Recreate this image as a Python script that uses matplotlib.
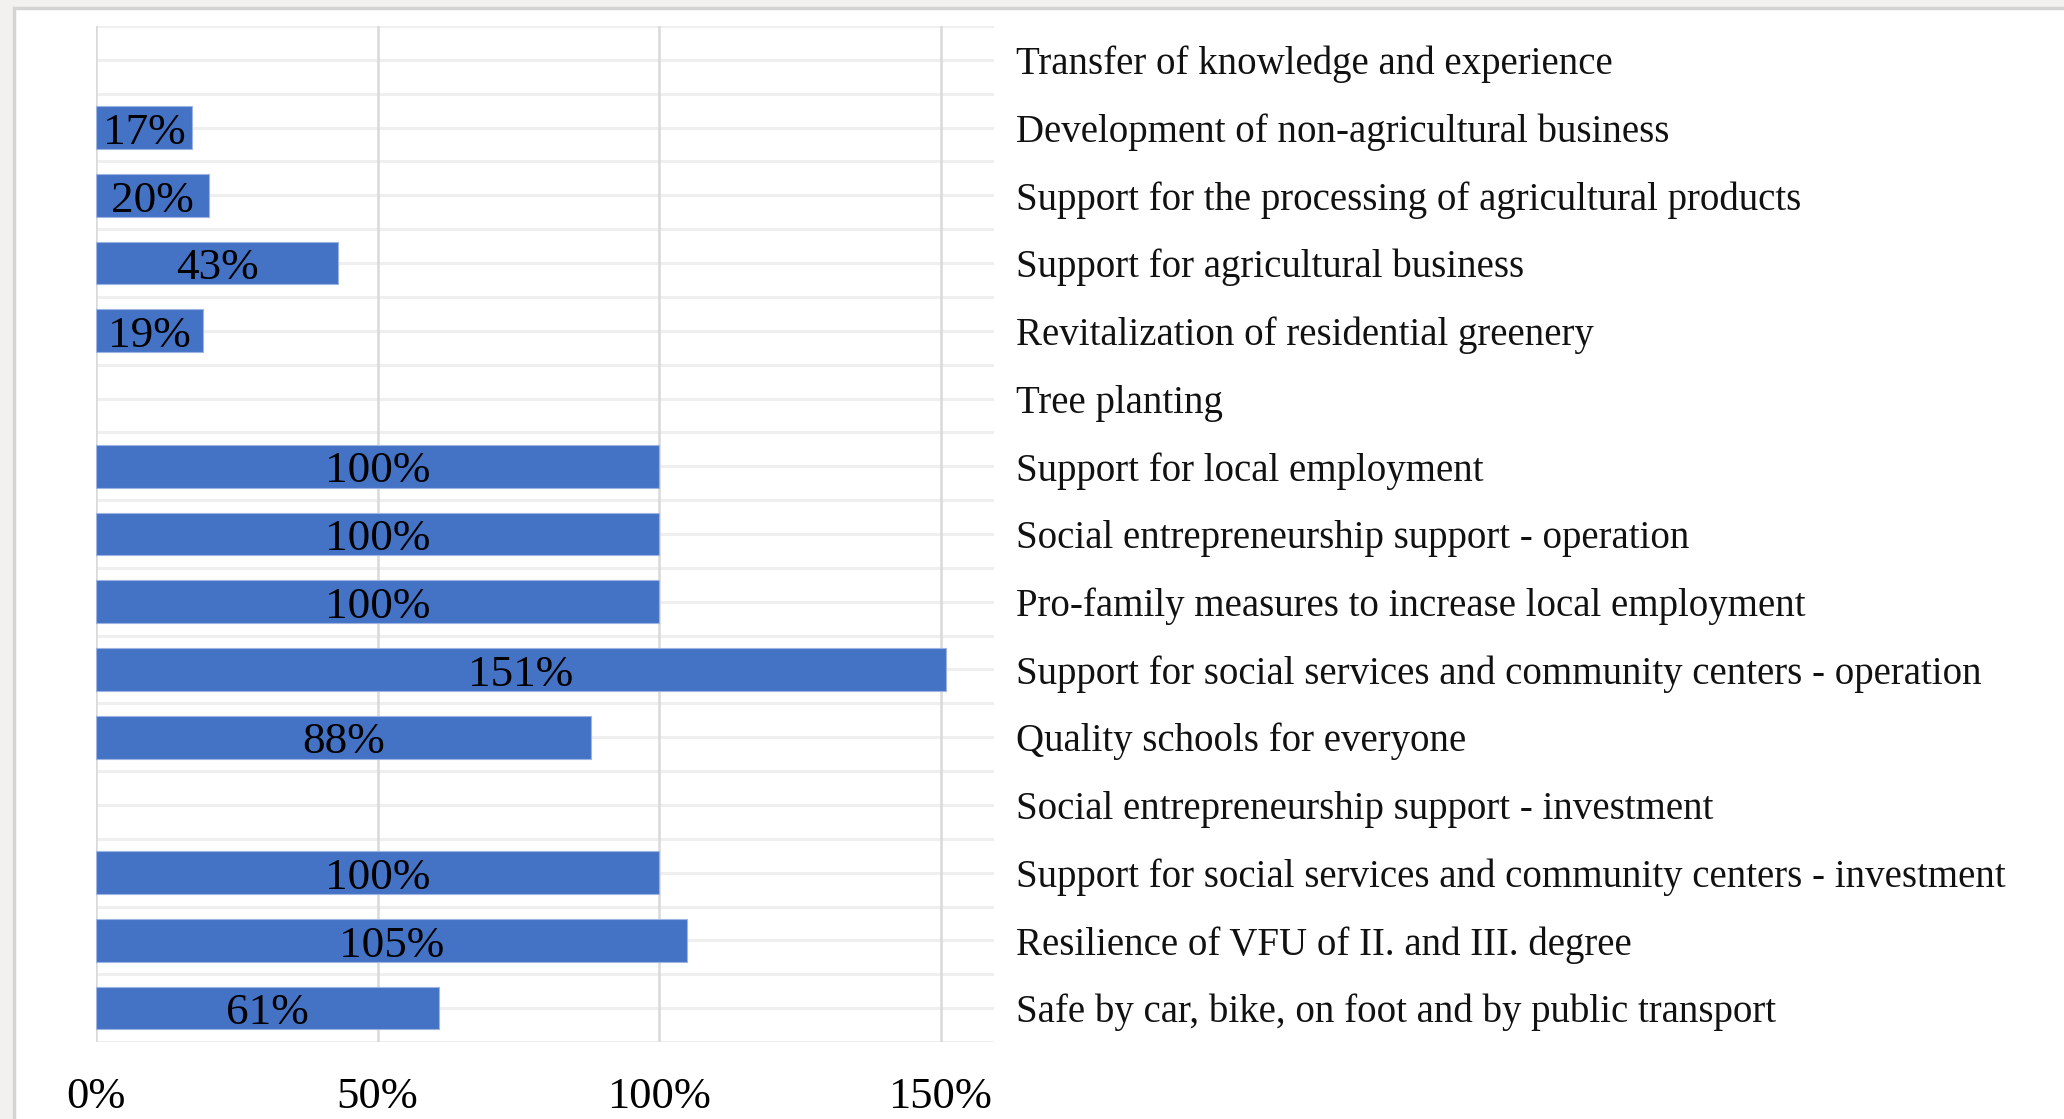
import matplotlib
matplotlib.use("Agg")
import matplotlib.pyplot as plt
import matplotlib.patches as mpatches
import numpy as np

categories = [
    "Transfer of knowledge and experience",
    "Development of non-agricultural business",
    "Support for the processing of agricultural products",
    "Support for agricultural business",
    "Revitalization of residential greenery",
    "Tree planting",
    "Support for local employment",
    "Social entrepreneurship support - operation",
    "Pro-family measures to increase local employment",
    "Support for social services and community centers - operation",
    "Quality schools for everyone",
    "Social entrepreneurship support - investment",
    "Support for social services and community centers - investment",
    "Resilience of VFU of II. and III. degree",
    "Safe by car, bike, on foot and by public transport",
]
values = [None, 17, 20, 43, 19, None, 100, 100, 100, 151, 88, None, 100, 105, 61]
xticks = [0, 50, 100, 150]
xtick_labels = ["0%", "50%", "100%", "150%"]

W, H = 2064, 1119
fig = plt.figure(figsize=(W / 100, H / 100), dpi=100)
fig.patch.set_facecolor("#f3f1f0")
fig.patches.append(mpatches.Rectangle((14 / W, -0.1), 1.2, 1.1 - 8 / H, transform=fig.transFigure,
                                      facecolor="white", edgecolor="#d4d4d4", linewidth=2.5,
                                      zorder=-10))

left, right = 96 / W, 994 / W
top, bottom = 1 - 26 / H, 1 - 1042 / H
ax = fig.add_axes([left, bottom, right - left, top - bottom])
ax.set_facecolor("none")

n = len(categories)
y = np.arange(n)
serif = ["Liberation Serif", "DejaVu Serif"]

# gridlines
for yy in np.arange(-0.5, n, 0.5):
    ax.axhline(yy, color="#efefef", lw=2.2, zorder=0.5)
for xv in xticks:
    ax.axvline(xv, color="#d9d9d9", lw=1.8, zorder=0.6)

for yi, v in zip(y, values):
    if v is None:
        continue
    ax.barh(yi, v, height=0.63, color="#4472c4", edgecolor="#9db4e0", linewidth=0.8, zorder=2)
    ax.text(v / 2, yi + 0.01, f"{v}%", ha="center", va="center_baseline", fontsize=32.5,
            family=serif, color="black", zorder=3)

ax.set_xlim(0, 159.5)
ax.set_ylim(n - 0.5, -0.5)
ax.set_xticks(xticks)
ax.set_xticklabels(xtick_labels, family=serif, fontsize=32, color="black")
ax.tick_params(axis="x", length=0, pad=25)

ax.yaxis.tick_right()
ax.set_yticks(y)
ax.set_yticklabels(categories, family=serif, fontsize=28, color="#111111")
ax.tick_params(axis="y", length=0, pad=16)

for s in ax.spines.values():
    s.set_visible(False)

fig.savefig("out.png", dpi=100, facecolor=fig.get_facecolor())
